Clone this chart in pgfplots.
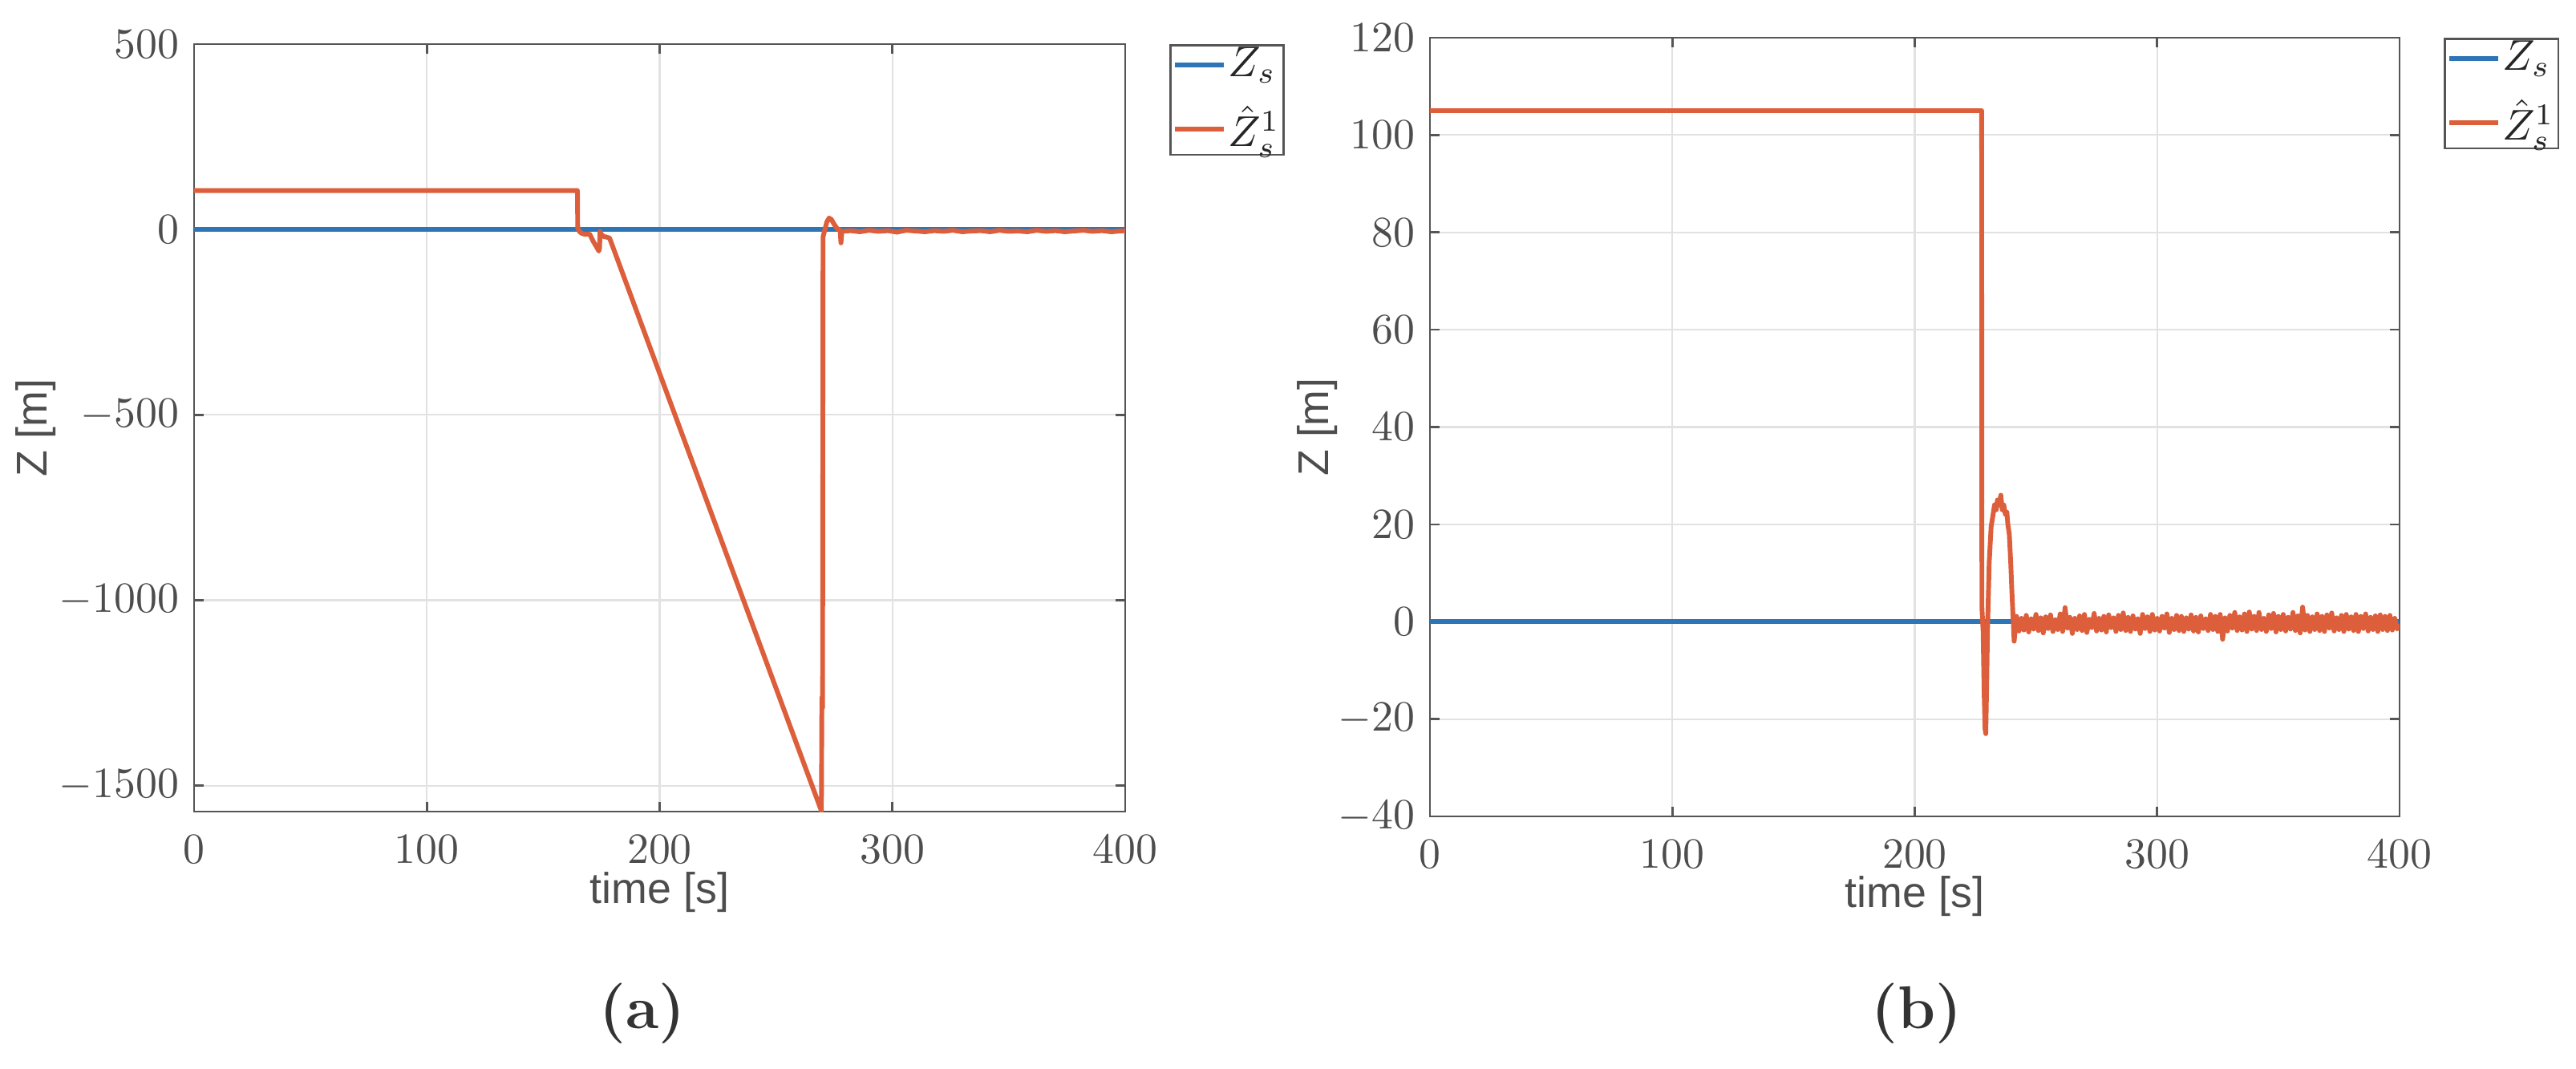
\documentclass[border=0pt]{standalone}
\usepackage{fontspec}
\usepackage{pgfplots}
\pgfplotsset{compat=1.18}
\newfontfamily\lblfont{Liberation Sans}

\definecolor{zsBlue}{HTML}{2E75B6}
\definecolor{zhOrange}{HTML}{DC5E3A}
\definecolor{axGray}{HTML}{555555}
\definecolor{txtGray}{HTML}{4D4D4D}
\definecolor{gridGray}{HTML}{E2E2E2}

\pgfplotsset{
    zplot/.style={
        scale only axis,
        xmin=0, xmax=400,
        xtick={0,100,...,400},
        /pgf/number format/1000 sep={},
        axis line style={axGray, line width=0.5pt},
        tick style={axGray, line width=0.5pt},
        major tick length=0.08cm,
        tick align=inside,
        grid=major,
        major grid style={gridGray, line width=0.4pt},
        tick label style={color=txtGray, font=\normalsize},
        xticklabel style={yshift=-0.07cm},
        label style={color=txtGray, font=\lblfont\normalsize},
        xlabel={time [s]},
        ylabel={Z [m]},
        legend cell align={left},
        legend style={at={(1,1)}, anchor=north west, xshift=0.36cm,
            draw=axGray, line width=0.5pt, fill=white, text=black!85,
            font=\normalsize, inner xsep=0.5pt, inner ysep=0pt,
            nodes={inner sep=0.4pt}, row sep=4.5pt, column sep=0pt},
        legend image code/.code={\draw[#1, line width=1.1pt] (0cm,0cm) -- (0.4cm,0cm);},
        every axis plot/.append style={line width=1.1pt, line join=round},
    }
}

\begin{document}
\begin{tikzpicture}
\useasboundingbox (0,0) rectangle (21,8.709);

% (a)
\begin{axis}[zplot,
    at={(1.582cm,2.092cm)}, anchor=south west,
    width=7.591cm, height=6.257cm,
    ymin=-1570, ymax=500,
    ytick={-1500,-1000,-500,0,500},
    xlabel style={at={(axis description cs:0.5,0)}, anchor=center, yshift=-0.66cm},
    ylabel style={at={(axis description cs:-0.1697,0.5)}, anchor=center},
]
    \addplot[zsBlue] coordinates {(0,0) (400,0)};
    \addplot[zhOrange] coordinates {
        (0,105) (164.7,105) (164.8,5) (165.5,-5) (166.4,-10) (168,-13) (169.9,-12)
        (171.5,-32) (173.9,-58) (174.2,-50) (174.4,-6) (175,-13) (176,-19) (177,-20)
        (178.5,-23) (269.5,-1568) (269.7,-1262) (270.0,-1290) (270.2,-20) (270.9,-2)
        (271.8,20) (272.8,31) (273.8,27) (275,14) (276.2,3) (277.5,-1) (277.9,-36)
        (278.3,-5) (282,-3) (286,-6) (290,-2) (294,-5) (298,-3) (302,-7) (306,-2)
        (310,-4) (314,-6) (318,-3) (322,-5) (326,-2) (330,-6) (334,-4) (338,-3)
        (342,-6) (346,-2) (350,-5) (354,-4) (358,-6) (362,-2) (366,-5) (370,-3)
        (374,-6) (378,-4) (382,-2) (386,-5) (390,-3) (394,-6) (398,-4) (400,-3)
    };
    \addlegendentry{$Z_s$}
    \addlegendentry{$\hat{Z}_s^1$}
\end{axis}

% (b)
\begin{axis}[zplot,
    at={(11.657cm,2.053cm)}, anchor=south west,
    width=7.905cm, height=6.349cm,
    ymin=-40, ymax=120,
    ytick={-40,-20,...,120},
    xlabel style={at={(axis description cs:0.5,0)}, anchor=center, yshift=-0.65cm},
    ylabel style={at={(axis description cs:-0.1158,0.5)}, anchor=center},
]
    \addplot[zsBlue] coordinates {(0,0) (400,0)};
    \addplot[zhOrange] table {
        x y
        0 105
        227.6 105
        227.7 3
        228.2 -2
        228.6 -14
        229.0 -22
        229.3 -23
        229.7 -12
        230.0 -2
        230.7 12
        231.5 19.5
        232.3 22
        232.9 24
        233.6 23
        234.1 25
        234.8 24
        235.5 26
        236.1 23
        236.7 24
        237.4 22
        238.0 22.5
        238.4 20
        239.0 18
        239.6 12
        240.0 7
        240.5 1.5
        241.0 -4
        241.4 -2
        242 1.1
        243 -1.9
        244 0.7
        245 -1.7
        246 1.3
        247 -2.1
        248 0.6
        249 -1.5
        250 1.5
        251 -1.8
        252 0.8
        253 -2.3
        254 1.0
        255 -1.4
        256 1.4
        257 -2.0
        258 0.4
        259 -1.6
        260 1.6
        261 -2.0
        262 2.9
        263 -1.3
        264 0.9
        265 -2.4
        266 0.7
        267 -1.6
        268 1.2
        269 -1.8
        270 1.5
        271 -2.2
        272 0.5
        273 -1.2
        274 1.7
        275 -1.9
        276 0.7
        277 -1.7
        278 1.1
        279 -2.1
        280 1.4
        281 -1.2
        282 0.8
        283 -2.0
        284 1.3
        285 -1.6
        286 1.8
        287 -1.8
        288 0.9
        289 -2.0
        290 1.2
        291 -1.5
        292 0.6
        293 -2.4
        294 1.5
        295 -1.4
        296 1.0
        297 -2.0
        298 1.5
        299 -1.7
        300 0.7
        301 -1.9
        302 1.1
        303 -1.3
        304 1.6
        305 -2.2
        306 0.7
        307 -1.6
        308 1.3
        309 -1.8
        310 1.1
        311 -2.0
        312 0.8
        313 -1.5
        314 1.4
        315 -1.9
        316 0.9
        317 -2.1
        318 1.2
        319 -1.4
        320 0.6
        321 -1.8
        322 1.5
        323 -1.6
        324 1.1
        325 -2.0
        326 1.5
        327 -3.6
        328 0.8
        329 -1.9
        330 1.3
        331 -1.3
        332 1.9
        333 -1.8
        334 1.0
        335 -1.7
        336 1.6
        337 -2.0
        338 2.0
        339 -1.5
        340 1.1
        341 -1.8
        342 1.9
        343 -1.6
        344 0.7
        345 -2.0
        346 1.4
        347 -1.4
        348 1.7
        349 -2.1
        350 1.1
        351 -1.6
        352 1.5
        353 -1.9
        354 0.9
        355 -1.5
        356 1.9
        357 -1.8
        358 1.2
        359 -2.3
        360 3.0
        361 -1.7
        362 1.3
        363 -2.0
        364 1.0
        365 -1.6
        366 1.6
        367 -1.8
        368 1.1
        369 -2.0
        370 1.4
        371 -1.3
        372 1.8
        373 -1.9
        374 0.8
        375 -1.6
        376 1.3
        377 -2.0
        378 1.5
        379 -1.5
        380 1.0
        381 -1.8
        382 1.5
        383 -2.0
        384 1.1
        385 -1.4
        386 1.6
        387 -1.9
        388 0.9
        389 -1.6
        390 1.2
        391 -2.0
        392 1.4
        393 -1.6
        394 1.1
        395 -1.8
        396 1.3
        397 -1.7
        398 0.7
        399 -1.5
        400 -0.5
    };
    \addlegendentry{$Z_s$}
    \addlegendentry{$\hat{Z}_s^1$}
\end{axis}

\node[font=\fontsize{14}{16}\selectfont\bfseries, text=black!80] at (5.237,0.445) {(a)};
\node[font=\fontsize{14}{16}\selectfont\bfseries, text=black!80] at (15.626,0.445) {(b)};
\end{tikzpicture}
\end{document}
